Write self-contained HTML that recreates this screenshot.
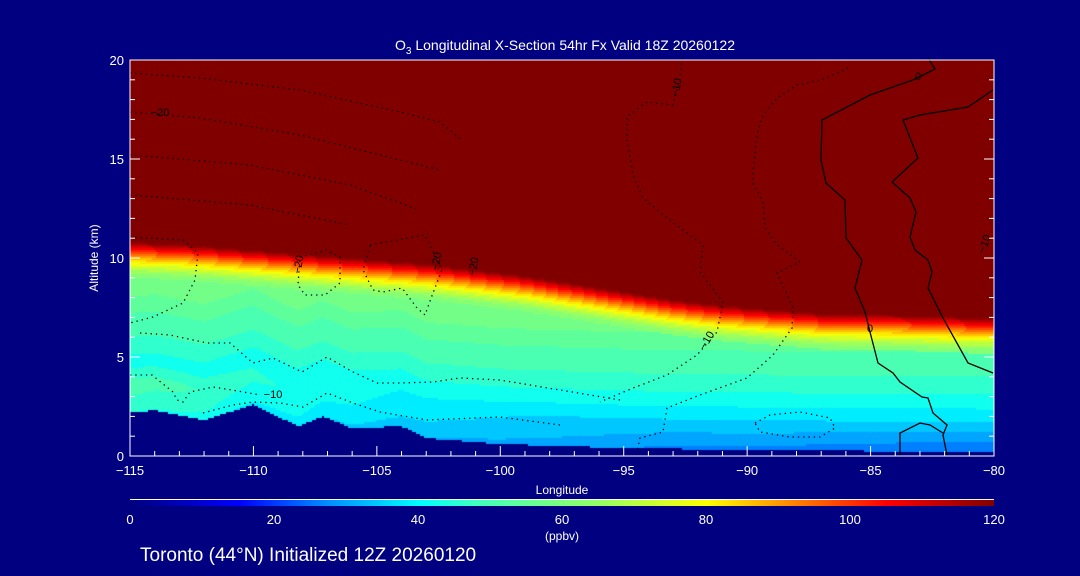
<!DOCTYPE html>
<html><head><meta charset="utf-8"><style>
html,body{margin:0;padding:0;background:#000080;width:1080px;height:576px;overflow:hidden}
#c{position:absolute;left:130px;top:60px}
svg{position:absolute;left:0;top:0}
text{font-family:"Liberation Sans",sans-serif;fill:#fff}
</style></head><body>
<canvas id="c" width="864" height="396"></canvas>
<svg id="s" width="1080" height="576"></svg>
<script>
const lons=[-115,-113,-111,-109,-107,-105,-103,-101,-99,-97,-95,-93,-91,-89,-87,-85,-83,-81,-80];
const tropo=[10.9,10.8,10.6,10.4,10.2,10.0,9.8,9.5,9.2,8.8,8.4,8.0,7.7,7.5,7.3,7.25,7.2,7.1,7.1];
const nearSurf=[44,43,40,38,36,34,32,31,30,29,28,27,27,27,26,26,25,25,25];
const surfLons=[-115,-114,-112,-110,-108.2,-107.2,-106,-104,-103,-100,-95,-90,-85,-80];
const surf=[2.2,2.3,1.8,2.6,1.5,2.0,1.4,1.5,0.9,0.6,0.4,0.3,0.25,0.2];
const altTicks=[0,5,10,15,20];
const lonTicks=[-115,-110,-105,-100,-95,-90,-85,-80];
const cbTicks=[0,20,40,60,80,100,120];
const cmapV=[0,15,27,33,40,48,55,65,80,105,120];
const cmapC=[[0,0,128],[0,0,255],[0,140,255],[0,190,255],[0,255,255],[64,255,190],[100,255,150],[150,255,100],[255,255,0],[255,0,0],[128,0,0]];
const X0=130,X1=994,Y0=456,Y1=60;
const xs=l=>X0+(l+115)/35*(X1-X0);
const ys=z=>Y0-z/20*(Y0-Y1);
function interp(xa,a,l){for(let i=0;i<xa.length-1;i++){if(l<=xa[i+1]){const t=(l-xa[i])/(xa[i+1]-xa[i]);return a[i]+(a[i+1]-a[i])*t;}}return a[a.length-1];}
function cmap(v){v=Math.max(0,Math.min(120,v));for(let i=0;i<cmapV.length-1;i++){if(v<=cmapV[i+1]){const t=(v-cmapV[i])/(cmapV[i+1]-cmapV[i]);const a=cmapC[i],b=cmapC[i+1];return `rgb(${a[0]+(b[0]-a[0])*t|0},${a[1]+(b[1]-a[1])*t|0},${a[2]+(b[2]-a[2])*t|0})`;}}return 'rgb(128,0,0)';}
function val(z,l){const T=interp(lons,tropo,l),S=interp(surfLons,surf,l),N=interp(lons,nearSurf,l);
if(z>=T)return 125;const w=1.9;
if(z>T-w){const q=(z-(T-w))/w;return 60+65*Math.pow(q,1.3);}
const h=z-S;const hp=[0,0.5,1.5,2.5,3.5,5,6.5],vp=[N,N+3,Math.max(N+6,36),42,47,52,59];
return Math.min(60,interp(hp,vp,h));}
const cv=document.getElementById('c'),ctx=cv.getContext('2d');
for(let px=0;px<864;px+=2){const l=-115+(px+1)/864*35;const S=interp(surfLons,surf,l);
for(let py=0;py<396;py+=2){const z=(396-py-1)/396*20;
if(z<S){ctx.fillStyle='#000080';}else{const v=Math.floor(val(z,l)/4)*4+2;ctx.fillStyle=cmap(v);}
ctx.fillRect(px,py,2,2);}}
const s=document.getElementById('s');const NS='http://www.w3.org/2000/svg';
function el(t,a,txt){const e=document.createElementNS(NS,t);for(const k in a)e.setAttribute(k,a[k]);if(txt!=null)e.textContent=txt;s.appendChild(e);return e;}
const pl=x=>-115+(x-130)/864*35, pa=y=>(456-y)/19.8;
const solid=[
[[928,58],[935,69],[913,80],[870,95],[822,120],[821,160],[826,183],[845,200],[846,238],[862,260],[855,288],[865,312],[870,332],[878,363],[893,373],[900,382],[922,397],[928,398],[933,413],[947,425],[943,435],[947,455]],
[[993,90],[968,107],[920,115],[903,120],[918,158],[892,182],[910,198],[916,212],[910,237],[915,250],[928,260],[932,272],[928,288],[943,318],[968,363],[993,373]],
[[900,455],[900,433],[920,423],[930,425],[943,433]]];
const dotted=[
[[848,68],[840,72],[820,80],[797,85],[777,98],[763,115],[757,135],[752,182],[763,202],[765,228],[777,245],[800,262],[777,273],[793,308],[792,328],[773,355],[747,378],[700,395],[667,408],[663,432],[640,438],[637,452]],
[[682,58],[680,78],[673,105],[647,102],[627,117],[627,138],[633,175],[643,198],[667,218],[703,245],[700,272],[723,302],[717,332],[697,355],[667,375],[633,388],[600,402]],
[[300,257],[327,250],[340,257],[340,283],[325,295],[305,295],[298,285],[300,257]],
[[370,245],[425,235],[442,270],[433,293],[425,315],[417,308],[402,288],[383,292],[373,290],[363,270],[370,245]],
[[130,237],[183,240],[198,253],[195,280],[183,303],[153,317],[130,323]],
[[140,333],[170,335],[207,343],[230,343],[253,363],[273,358],[302,372],[327,357],[353,372],[377,383],[400,383],[433,382],[460,378],[500,380],[560,390],[620,400]],
[[130,375],[152,375],[173,392],[177,400],[183,402],[190,392],[213,387],[232,390],[260,395]],
[[203,413],[233,405],[253,402],[280,403],[303,407],[327,393],[353,403],[380,412],[427,420],[500,417],[560,425]],
[[130,73],[200,78],[300,90],[400,112],[440,122],[462,140]],
[[130,112],[200,118],[300,135],[400,160],[440,170]],
[[130,155],[250,165],[350,185],[420,210]],
[[130,195],[250,205],[350,225]],
[[755,423],[770,415],[800,412],[830,418],[835,428],[820,437],[790,437],[760,432],[755,423]]];
solid.forEach((pts,i)=>{const p=el('polyline',{points:pts.map(q=>xs(pl(q[0]))+','+ys(pa(q[1]))).join(' '),fill:'none',stroke:'#000','stroke-width':1.3});
});
dotted.forEach((pts,i)=>{const p=el('polyline',{points:pts.map(q=>xs(pl(q[0]))+','+ys(pa(q[1]))).join(' '),fill:'none',stroke:'#000','stroke-width':1.3,'stroke-dasharray':'1.3,4'});
});
const clabels=[[302,265,'\u221220',-80],[440,262,'\u221220',-80],[477,267,'\u221220',-80],[160,116,'\u221220',0],[273,398,'\u221210',0],[710,342,'\u221210',-60],[680,88,'\u221210',-80],[918,80,'0',0],[870,332,'0',0],[988,245,'\u221210',-70]];
clabels.forEach(c=>{const t=el('text',{x:c[0],y:c[1],'font-size':11,style:'fill:#000','text-anchor':'middle',transform:`rotate(${c[3]} ${c[0]} ${c[1]})`},c[2]);});
const ax=el('rect',{x:X0,y:Y1,width:X1-X0,height:Y0-Y1,fill:'none',stroke:'#fff','stroke-width':1});

altTicks.forEach(z=>{el('line',{x1:X0,x2:X0+10,y1:ys(z),y2:ys(z),stroke:'#fff'});el('line',{x1:X1,x2:X1-10,y1:ys(z),y2:ys(z),stroke:'#fff'});
const t=el('text',{x:X0-6,y:ys(z)+5,'text-anchor':'end','font-size':13},z);});
for(let z=0;z<=20;z++)if(z%5){el('line',{x1:X0,x2:X0+5,y1:ys(z),y2:ys(z),stroke:'#fff'});el('line',{x1:X1,x2:X1-5,y1:ys(z),y2:ys(z),stroke:'#fff'});}
lonTicks.forEach(l=>{el('line',{x1:xs(l),x2:xs(l),y1:Y0,y2:Y0-10,stroke:'#fff'});
const t=el('text',{x:xs(l),y:475,'text-anchor':'middle','font-size':13},String(l).replace('-','\u2212'));});
for(let l=-115;l<=-80;l++)if(l%5)el('line',{x1:xs(l),x2:xs(l),y1:Y0,y2:Y0-5,stroke:'#fff'});
let t=el('text',{x:562,y:494,'text-anchor':'middle','font-size':12},'Longitude');
t=el('text',{x:98,y:258,'text-anchor':'middle','font-size':12,transform:'rotate(-90 98 258)'},'Altitude (km)');
t=el('text',{x:565,y:50,'text-anchor':'middle','font-size':14});t.innerHTML='O<tspan font-size="10" dy="4">3</tspan><tspan dy="-4"> Longitudinal X-Section 54hr  Fx Valid 18Z 20260122</tspan>';
for(let i=0;i<432;i++){el('rect',{x:130+i*2,y:500,width:2,height:6,fill:cmap(i/432*120)});}
el('line',{x1:130,x2:994,y1:499.5,y2:499.5,stroke:'#fff'});
cbTicks.forEach(v=>{const t=el('text',{x:130+v/120*864,y:524,'text-anchor':'middle','font-size':13},v);});
t=el('text',{x:562,y:540,'text-anchor':'middle','font-size':12},'(ppbv)');
t=el('text',{x:140,y:561,'font-size':19},'Toronto (44°N) Initialized 12Z 20260120');
</script>
</body></html>
